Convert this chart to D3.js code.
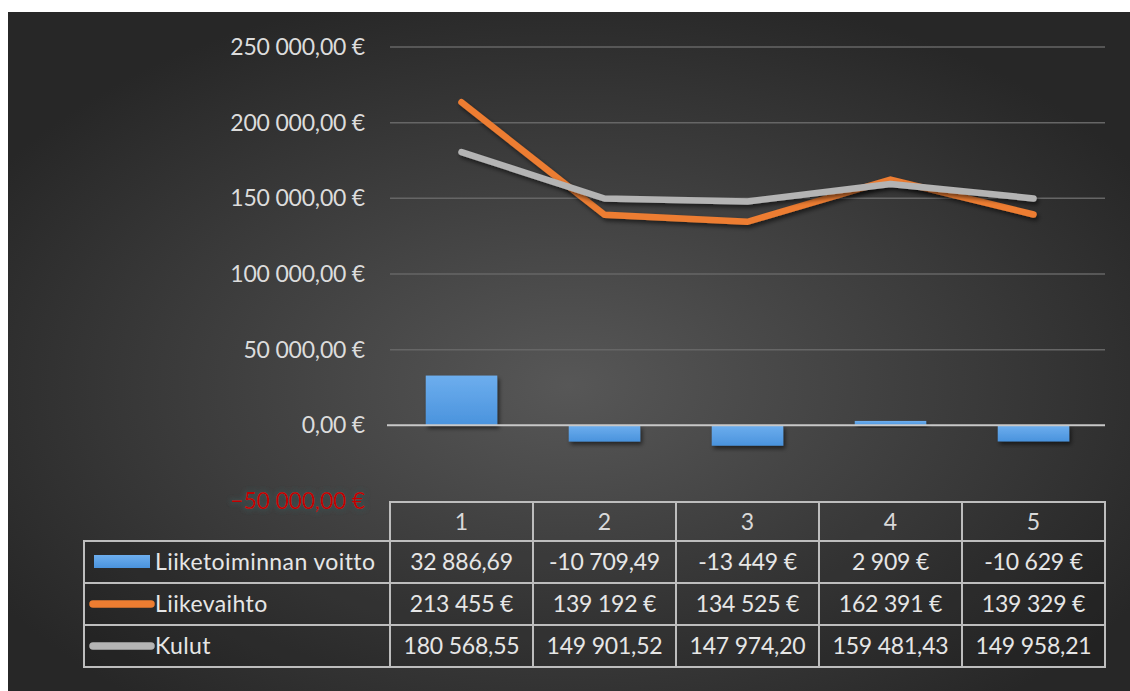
<!DOCTYPE html>
<html>
<head>
<meta charset="utf-8">
<script src="https://cdn.jsdelivr.net/npm/d3@7"></script>
<style>
  html, body { margin: 0; padding: 0; background: #fff; }
  svg { display: block; font-family: Lato, "Open Sans", sans-serif; }
</style>
</head>
<body>
<div id="chart"></div>
<script>
// data
const categories = ["1", "2", "3", "4", "5"];
const voitto = [32886.69, -10709.49, -13449, 2909, -10629];
const liikevaihto = [213455, 139192, 134525, 162391, 139329];
const kulut = [180568.55, 149901.52, 147974.20, 159481.43, 149958.21];

const seriesNames = ["Liiketoiminnan voitto", "Liikevaihto", "Kulut"];
const voittoLabels = ["32 886,69", "-10 709,49", "-13 449 €", "2 909 €", "-10 629 €"];
const liikevaihtoLabels = ["213 455 €", "139 192 €", "134 525 €", "162 391 €", "139 329 €"];
const kulutLabels = ["180 568,55", "149 901,52", "147 974,20", "159 481,43", "149 958,21"];
const yTicks = [-50000, 0, 50000, 100000, 150000, 200000, 250000];

const width = 1130, height = 691;

const svg = d3.select("#chart").append("svg")
    .attr("width", width)
    .attr("height", height);

const defs = svg.append("defs");

// background gradient
const bg = defs.append("radialGradient")
    .attr("id", "bg")
    .attr("cx", "50%").attr("cy", "55%").attr("r", "60%");
bg.append("stop").attr("offset", "0%").attr("stop-color", "#575757");
bg.append("stop").attr("offset", "100%").attr("stop-color", "#272727");

const barGrad = defs.append("linearGradient")
    .attr("id", "barGrad")
    .attr("x1", 0).attr("y1", 0).attr("x2", 0).attr("y2", 1);
barGrad.append("stop").attr("offset", "0%").attr("stop-color", "#6daeee");
barGrad.append("stop").attr("offset", "100%").attr("stop-color", "#4a93dd");

const shadow = defs.append("filter").attr("id", "shadow")
    .attr("x", "-20%").attr("y", "-20%").attr("width", "140%").attr("height", "160%");
shadow.append("feDropShadow")
    .attr("dx", 2).attr("dy", 3).attr("stdDeviation", 2)
    .attr("flood-color", "#000").attr("flood-opacity", 0.55);

const glow = defs.append("filter").attr("id", "glow")
    .attr("x", "-10%").attr("y", "-40%").attr("width", "120%").attr("height", "180%");
glow.append("feMorphology").attr("in", "SourceAlpha").attr("operator", "dilate").attr("radius", 2).attr("result", "d");
glow.append("feGaussianBlur").attr("in", "d").attr("stdDeviation", 2).attr("result", "b");
glow.append("feFlood").attr("flood-color", "#3a4a4a").attr("flood-opacity", 0.9);
glow.append("feComposite").attr("in2", "b").attr("operator", "in").attr("result", "g");
const gm = glow.append("feMerge");
gm.append("feMergeNode").attr("in", "g");
gm.append("feMergeNode").attr("in", "SourceGraphic");

svg.append("rect")
    .attr("x", 8).attr("y", 12)
    .attr("width", width - 8).attr("height", height - 12)
    .attr("fill", "url(#bg)");

// scales
const x = d3.scaleBand()
    .domain(categories)
    .range([390, 1105])
    .paddingInner(0.5)
    .paddingOuter(0.25);

const y = d3.scaleLinear()
    .domain([-50000, 250000])
    .range([501, 47]);

const locale = d3.formatLocale({ decimal: ",", thousands: "\u00a0", grouping: [3], currency: ["", "\u00a0€"] });
const fmt = locale.format("$,.2f");

// gridlines
svg.append("g")
    .selectAll("line")
    .data(yTicks.filter(d => d > 0))
    .join("line")
    .attr("x1", 390).attr("x2", 1105)
    .attr("y1", d => y(d)).attr("y2", d => y(d))
    .attr("stroke", "#666")
    .attr("stroke-width", 1.5);

// y labels
svg.append("g")
    .selectAll("text")
    .data(yTicks)
    .join("text")
    .attr("x", 365)
    .attr("y", d => y(d))
    .attr("dy", "0.35em")
    .attr("text-anchor", "end")
    .attr("font-size", 23)
    .attr("letter-spacing", -0.2)
    .attr("fill", d => d < 0 ? "#c00000" : "#dcdcdc")
    .attr("filter", d => d < 0 ? "url(#glow)" : null)
    .text(d => fmt(d));

// bars
svg.append("g")
    .selectAll("rect")
    .data(voitto)
    .join("rect")
    .attr("x", (d, i) => x(categories[i]))
    .attr("width", x.bandwidth())
    .attr("y", d => y(Math.max(0, d)))
    .attr("height", d => Math.abs(y(d) - y(0)))
    .attr("fill", "url(#barGrad)")
    .attr("filter", "url(#shadow)");

// zero line
svg.append("line")
    .attr("x1", 387).attr("x2", 1105)
    .attr("y1", y(0)).attr("y2", y(0))
    .attr("stroke", "#c8c8c8")
    .attr("stroke-width", 2);

// lines
const line = d3.line()
    .x((d, i) => x(categories[i]) + x.bandwidth() / 2)
    .y(d => y(d));

[[liikevaihto, "#ed7d31"], [kulut, "#b4b4b4"]].forEach(([vals, color]) => {
    svg.append("path")
        .datum(vals)
        .attr("d", line)
        .attr("fill", "none")
        .attr("stroke", color)
        .attr("stroke-width", 6.5)
        .attr("stroke-linecap", "round")
        .attr("stroke-linejoin", "round")
        .attr("filter", "url(#shadow)");
});

// data table
const rowY = [502, 541, 583, 625, 667];
// column edges from band steps
const edges = [84].concat(d3.range(categories.length + 1).map(i => 390 + i * x.step()));

const table = svg.append("g");
const borderColor = "#bdbdbd";

// header cells
categories.forEach((c, i) => {
    table.append("rect")
        .attr("x", edges[i + 1]).attr("y", rowY[0])
        .attr("width", x.step()).attr("height", rowY[1] - rowY[0])
        .attr("fill", "rgba(0,0,0,0.05)")
        .attr("stroke", borderColor).attr("stroke-width", 2);
    table.append("text")
        .attr("x", x(c) + x.bandwidth() / 2)
        .attr("y", (rowY[0] + rowY[1]) / 2)
        .attr("dy", "0.35em")
        .attr("text-anchor", "middle")
        .attr("font-size", 23)
        .attr("fill", "#d9d9d9")
        .text(c);
});

const rowLabels = [voittoLabels, liikevaihtoLabels, kulutLabels];
rowLabels.forEach((labels, r) => {
    const y0 = rowY[r + 1], y1 = rowY[r + 2];
    table.append("rect")
        .attr("x", edges[0]).attr("y", y0)
        .attr("width", edges[1] - edges[0]).attr("height", y1 - y0)
        .attr("fill", "rgba(0,0,0,0.12)")
        .attr("stroke", borderColor).attr("stroke-width", 2);
    labels.forEach((lab, i) => {
        table.append("rect")
            .attr("x", edges[i + 1]).attr("y", y0)
            .attr("width", x.step()).attr("height", y1 - y0)
            .attr("fill", "rgba(0,0,0,0.12)")
            .attr("stroke", borderColor).attr("stroke-width", 2);
        table.append("text")
            .attr("x", x(categories[i]) + x.bandwidth() / 2)
            .attr("y", (y0 + y1) / 2)
            .attr("dy", "0.35em")
            .attr("text-anchor", "middle")
            .attr("font-size", 23)
            .attr("letter-spacing", -0.2)
            .attr("fill", "#e6e6e6")
            .text(lab);
    });
    const cy = (y0 + y1) / 2;
    if (r === 0) {
        table.append("rect")
            .attr("x", 94).attr("y", cy - 7)
            .attr("width", 56).attr("height", 13)
            .attr("fill", "url(#barGrad)");
    } else {
        table.append("line")
            .attr("x1", 93).attr("x2", 151)
            .attr("y1", cy).attr("y2", cy)
            .attr("stroke", r === 1 ? "#ed7d31" : "#b4b4b4")
            .attr("stroke-width", 7.5)
            .attr("stroke-linecap", "round");
    }
    table.append("text")
        .attr("x", 155)
        .attr("y", cy)
        .attr("dy", "0.35em")
        .attr("font-size", 23)
        .attr("letter-spacing", 0.4)
        .attr("fill", "#e6e6e6")
        .text(seriesNames[r]);
});
</script>
</body>
</html>
